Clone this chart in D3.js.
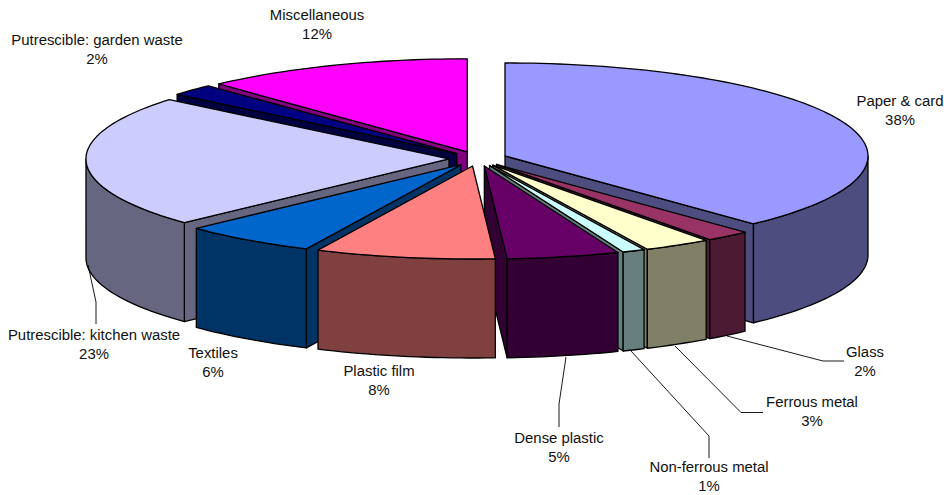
<!DOCTYPE html>
<html>
<head>
<meta charset="utf-8">
<title>Waste composition</title>
<script src="https://cdn.jsdelivr.net/npm/d3@7"></script>
<style>
  html, body { margin: 0; padding: 0; background: #fff; }
  svg { display: block; }
  text { font-family: "Liberation Sans", Arial, sans-serif; font-size: 14.9px; fill: #111; text-anchor: middle; }
</style>
</head>
<body>
<svg id="chart" width="944" height="495"></svg>
<script>
// Waste stream composition, clockwise from twelve o'clock
const categories = ["Paper & card", "Glass", "Ferrous metal", "Non-ferrous metal", "Dense plastic",
                    "Plastic film", "Textiles", "Putrescible: kitchen waste", "Putrescible: garden waste", "Miscellaneous"];
const shares = [38, 2, 3, 1, 5, 8, 6, 23, 2, 12];
const colours = ["#9999FF", "#993366", "#FFFFCC", "#CCFFFF", "#660066",
                 "#FF8080", "#0066CC", "#CCCCFF", "#000080", "#FF00FF"];

// Label anchor (centre x, first baseline) per category
const labelAnchors = [[900, 106], [865, 357], [812, 407], [709, 472], [559, 443],
                      [379, 376], [213, 358], [94, 340], [97, 45], [317, 20]];
// Leader polylines for the labels that sit away from their slice
const leaders = [
  { cat: "Glass", pts: [[727, 336], [823, 361], [844, 361]] },
  { cat: "Ferrous metal", pts: [[675, 346], [741, 412.5], [763, 412.5]] },
  { cat: "Non-ferrous metal", pts: [[631, 351], [709, 436], [709, 458]] },
  { cat: "Dense plastic", pts: [[566, 357], [559, 404], [559, 427]] },
  { cat: "Putrescible: kitchen waste", pts: [[88, 265], [96, 302], [96, 324]] }
];
// Back-to-front painting sequence so nearer slices overlap farther ones
const paintOrder = ["Miscellaneous", "Putrescible: garden waste", "Putrescible: kitchen waste", "Textiles",
                    "Paper & card", "Glass", "Ferrous metal", "Non-ferrous metal", "Dense plastic", "Plastic film"];

const centreX = 478, centreY = 158.7, radiusX = 363, radiusY = 93, depth = 99, explode = 0.08;

const x = d3.scaleLinear().domain([-1, 1]).range([centreX - radiusX, centreX + radiusX]);
const y = d3.scaleLinear().domain([-1, 1]).range([centreY - radiusY, centreY + radiusY]);

const pie = d3.pie().sort(null).value((d, i) => shares[i]).startAngle(0).endAngle(2 * Math.PI);
const arcs = pie(categories);

const svg = d3.select("#chart");
const line = d3.line();
const half = c => { const r = d3.rgb(c); return d3.rgb(r.r / 2, r.g / 2, r.b / 2).formatHex(); };

function sliceGeometry(arc) {
  const mid = (arc.startAngle + arc.endAngle) / 2;
  const ox = explode * Math.sin(mid), oy = -explode * Math.cos(mid);
  const pt = t => [x(ox + Math.sin(t)), y(oy - Math.cos(t))];
  const apex = [x(ox), y(oy)];
  const sweep = (a, b) => {
    const n = Math.max(2, Math.ceil((b - a) * 40));
    return d3.range(n + 1).map(i => pt(a + (b - a) * i / n));
  };
  return { apex, pt, sweep };
}

const down = p => [p[0], p[1] + depth];

paintOrder.forEach(name => {
  const idx = categories.indexOf(name);
  const arc = arcs[idx];
  const { apex, pt, sweep } = sliceGeometry(arc);
  const a = arc.startAngle, b = arc.endAngle;
  const wall = half(colours[idx]);
  const g = svg.append("g").attr("stroke", "#000").attr("stroke-width", 1.3).attr("stroke-linejoin", "round");

  // Cut faces: the leading edge shows on the left half, the trailing edge on the right half
  if (Math.sin(a) < -1e-6) {
    const r = pt(a);
    g.append("path").attr("fill", wall).attr("d", line([apex, r, down(r), down(apex)]) + "Z");
  }
  if (Math.sin(b) > 1e-6) {
    const r = pt(b);
    g.append("path").attr("fill", wall).attr("d", line([apex, r, down(r), down(apex)]) + "Z");
  }

  // Rim: only the stretch of the arc that faces the viewer
  const from = Math.max(a, Math.PI / 2), to = Math.min(b, 3 * Math.PI / 2);
  if (to > from) {
    const rim = sweep(from, to);
    g.append("path").attr("fill", wall)
      .attr("d", line(rim.concat(rim.map(down).reverse())) + "Z");
  }

  // Top face
  g.append("path").attr("fill", colours[idx])
    .attr("d", line([apex].concat(sweep(a, b))) + "Z");
});

// Leader lines
svg.append("g").selectAll("path").data(leaders).join("path")
  .attr("fill", "none").attr("stroke", "#000").attr("stroke-width", 0.9)
  .attr("d", d => line(d.pts));

// Category name and share
const labels = svg.append("g").selectAll("text").data(categories).join("text")
  .attr("transform", (d, i) => `translate(${labelAnchors[i][0]},${labelAnchors[i][1]})`);
labels.append("tspan").attr("x", 0).attr("y", 0).text(d => d);
labels.append("tspan").attr("x", 0).attr("y", 19.2).text((d, i) => shares[i] + "%");
</script>
</body>
</html>
